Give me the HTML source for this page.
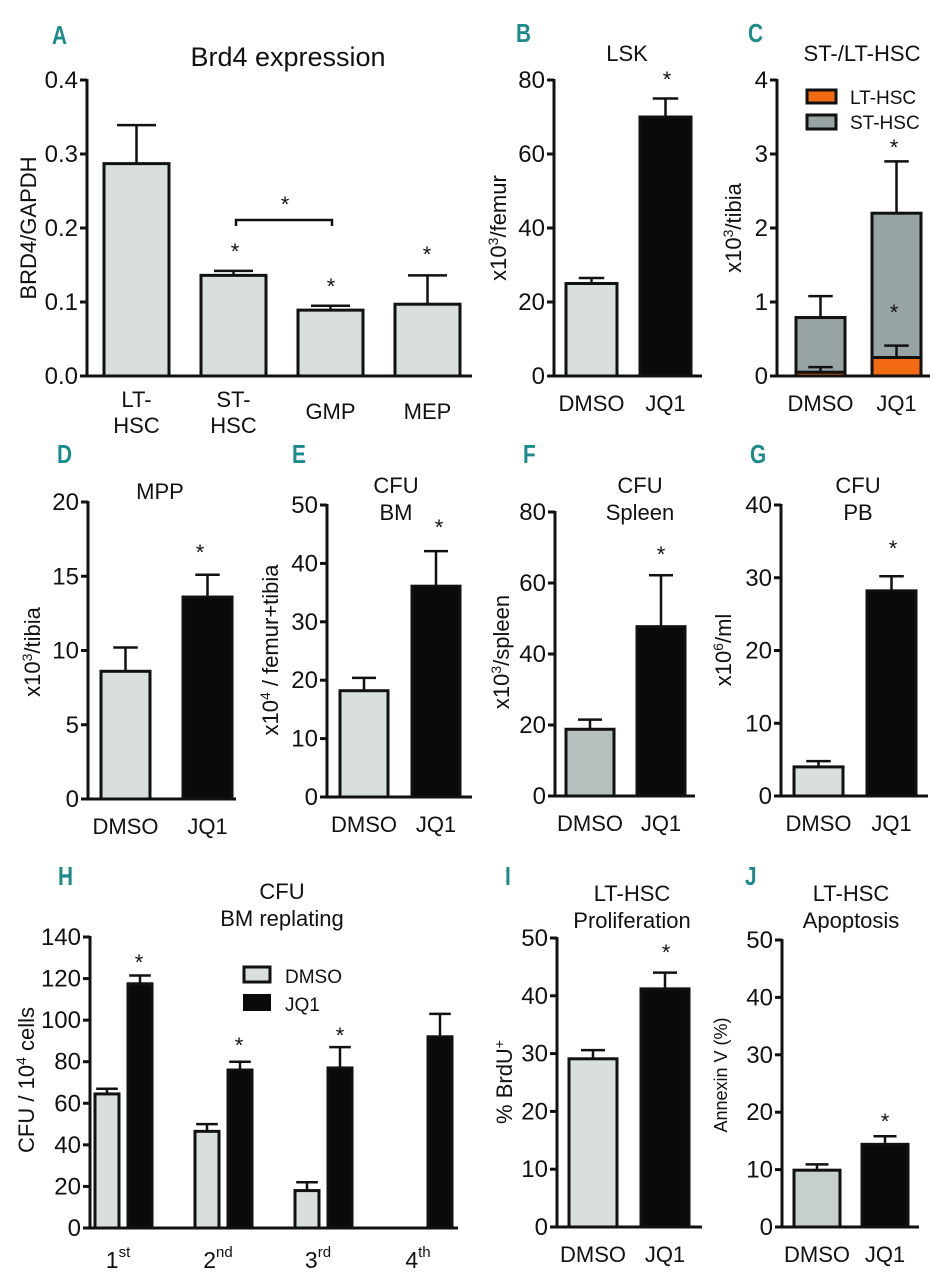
<!DOCTYPE html>
<html><head><meta charset="utf-8">
<style>
html,body{margin:0;padding:0;background:#fff;}
svg{display:block;}
text{font-family:"Liberation Sans",Arial,sans-serif;fill:#111;}
.lt{font-family:"Liberation Sans Narrow","Liberation Sans",sans-serif;font-weight:bold;fill:#1b8a8c;font-size:26px;}
</style></head>
<body>
<svg id="fig" width="944" height="1280" viewBox="0 0 944 1280" xmlns="http://www.w3.org/2000/svg"></svg>
<script>
// ---------- data ----------
const aCategories=["LT-|HSC","ST-|HSC","GMP","MEP"];
const aValues=[0.287,0.136,0.089,0.097];
const aErrTops=[0.339,0.142,0.095,0.136];
const aTicks=["0.0","0.1","0.2","0.3","0.4"];

const grpCategories=["DMSO","JQ1"];
const bValues=[25,70];
const bErrTops=[26.5,75];
const bTicks=["0","20","40","60","80"];

const cLtValues=[0.05,0.25];
const cLtErrTops=[0.12,0.41];
const cStValues=[0.74,1.95];
const cTotalErrTops=[1.08,2.9];
const cTicks=["0","1","2","3","4"];

const dValues=[8.6,13.6];
const dErrTops=[10.2,15.1];
const dTicks=["0","5","10","15","20"];

const eValues=[18.2,36.1];
const eErrTops=[20.4,42.1];
const eTicks=["0","10","20","30","40","50"];

const fValues=[18.8,47.7];
const fErrTops=[21.5,62.2];
const fTicks=["0","20","40","60","80"];

const gValues=[4.0,28.2];
const gErrTops=[4.8,30.2];
const gTicks=["0","10","20","30","40"];

const hCategories=["1|st","2|nd","3|rd","4|th"];
const hDmsoValues=[64.5,46.5,18,0];
const hDmsoErrTops=[67,50,22,0];
const hJq1Values=[117.5,76,77,92];
const hJq1ErrTops=[121.5,80,87,103];
const hTicks=["0","20","40","60","80","100","120","140"];

const iValues=[29.1,41.2];
const iErrTops=[30.6,44];
const iTicks=["0","10","20","30","40","50"];

const jValues=[9.9,14.4];
const jErrTops=[10.9,15.8];
const jTicks=["0","10","20","30","40","50"];

// ---------- helpers ----------
const NS="http://www.w3.org/2000/svg";
const svg=document.getElementById('fig');
function mk(tag,attrs,parent){const e=document.createElementNS(NS,tag);for(const k in attrs)e.setAttribute(k,attrs[k]);(parent||svg).appendChild(e);return e;}
function txt(s,x,y,size,parent,anchor,extra){const t=mk('text',Object.assign({x:x,y:y,'font-size':size,'text-anchor':anchor||'middle'},extra||{}),parent);t.textContent=s;return t;}

function axes(g,cfg){
  const ys=v=>cfg.y0-(v/cfg.ymax)*(cfg.y0-cfg.ytop);
  const ya=mk('line',{x1:cfg.ax,y1:cfg.ytop-1,x2:cfg.ax,y2:cfg.y0+1.5,stroke:'#111','stroke-width':3},g);
  
  
  const xa=mk('line',{x1:cfg.ax-6,y1:cfg.y0,x2:cfg.xend,y2:cfg.y0,stroke:'#111','stroke-width':3},g);
  
  
  const n=cfg.ticks.length;
  cfg.ticks.forEach((lab,i)=>{
    const v=cfg.ymax*i/(n-1);const y=ys(v);
    const tk=mk('line',{x1:cfg.ax-7,y1:y,x2:cfg.ax,y2:y,stroke:'#111','stroke-width':3},g);
    
    
    const tl=txt(lab,cfg.ax-9,y+8,cfg.tickSize||24,g,'end');
    
    
  });
  return ys;
}
function bar(g,x,w,yTop,yBot,fill,name){
  const r=mk('rect',{x:x,y:yTop,width:w,height:Math.max(0,yBot-yTop),fill:fill,stroke:'#111','stroke-width':3},g);
  
  
  return r;
}
function err(g,cx,yVal,yTop,w,name){
  const e=mk('path',{d:`M${cx},${yVal} V${yTop} M${cx-w/2},${yTop} H${cx+w/2}`,stroke:'#111','stroke-width':2.5,fill:'none'},g);
  
  
}
function star(g,x,y){const s=txt('*',x,y,22,g);}
function ytitle(g,s,x,y,size){
  const t=mk('text',{x:0,y:0,'font-size':size||22,'text-anchor':'middle',transform:`translate(${x},${y}) rotate(-90)`},g);
  t.innerHTML=s;
  
  
}
function title(g,lines,cx,y,size,family){
  lines.forEach((l,i)=>{const t=txt(l,cx,y+i*27,size||22,g,'middle',family?{'font-family':family}:{});});
}
function letter(g,s,x,y){const t=txt(s,0,0,26,g,'start',{class:'lt',transform:`translate(${x},${y}) scale(0.8,1)`});}
function xlab(g,s,cx,y,size){
  const parts=s.split('|');
  parts.forEach((p,i)=>{const t=txt(p,cx,y+i*26,size||22,g);});
}

function twoBar(id,cfg,values,errTops,fills){
  const g=mk('g',{});
  const ys=axes(g,cfg);
  values.forEach((v,i)=>{
    const x=cfg.first+i*cfg.step;const cx=x+cfg.w/2;
    err(g,cx,ys(v),ys(errTops[i]),cfg.w/2,'error-bar-'+grpCategories[i].toLowerCase());
    bar(g,x,cfg.w,ys(v),cfg.y0,fills[i],'bar-'+grpCategories[i].toLowerCase());
    xlab(g,grpCategories[i],cx,cfg.y0+35);
  });
  return {g,ys};
}

const LIGHT='#d8dfdd', BLACK='#0a0a0a';

// ---------- Panel A ----------
(function(){
  const cfg={ax:87,y0:376,ytop:80,ymax:0.4,xend:472,ticks:aTicks};
  const g=mk('g',{});
  letter(g,'A',52,44);
  title(g,['Brd4 expression'],288,66,27,'"DejaVu Sans","Liberation Sans",sans-serif');
  ytitle(g,'BRD4/GAPDH',36,228,22);
  const ys=axes(g,cfg);
  aValues.forEach((v,i)=>{
    const x=104+i*97, w=65, cx=x+w/2;
    err(g,cx,ys(v),ys(aErrTops[i]),w*0.6,'error-bar');
    bar(g,x,w,ys(v),cfg.y0,LIGHT,'bar-'+aCategories[i].replace('|','').toLowerCase());
    xlab(g,aCategories[i],cx,aCategories[i].includes('|')?407:419,22);
  });
  const br=mk('path',{d:'M236,226 V220 H332 V226',stroke:'#111','stroke-width':2.5,fill:'none'},g);
  
  
  star(g,285,212);star(g,235,259);star(g,331,294);star(g,427,262);
})();

// ---------- Panel B ----------
(function(){
  const cfg={ax:554,y0:376,ytop:80,ymax:80,xend:702,ticks:bTicks,first:566,step:74,w:51};
  const r=twoBar('panel-b',cfg,bValues,bErrTops,[LIGHT,BLACK]);
  letter(r.g,'B',516,42);
  title(r.g,['LSK'],627,61,22);
  ytitle(r.g,'x10<tspan dy="-8" font-size="14">3</tspan><tspan dy="8">/femur</tspan>',506,228,22);
  star(r.g,667,87);
})();

// ---------- Panel C ----------
(function(){
  const cfg={ax:777,y0:376,ytop:80,ymax:4,xend:930,ticks:cTicks,first:796,step:76,w:49};
  const g=mk('g',{});
  letter(g,'C',748,42);
  title(g,['ST-/LT-HSC'],862,61,22);
  ytitle(g,'x10<tspan dy="-8" font-size="14">3</tspan><tspan dy="8">/tibia</tspan>',741,228,22);
  const ys=axes(g,cfg);
  grpCategories.forEach((c,i)=>{
    const x=cfg.first+i*cfg.step, cx=x+cfg.w/2;
    const tot=cLtValues[i]+cStValues[i];
    err(g,cx,ys(tot),ys(cTotalErrTops[i]),cfg.w/2,'error-bar-st-hsc');
    bar(g,x,cfg.w,ys(tot),ys(cLtValues[i]),'#98a4a3','bar-st-hsc-'+c.toLowerCase());
    bar(g,x,cfg.w,ys(cLtValues[i]),cfg.y0,'#f26a12','bar-lt-hsc-'+c.toLowerCase());
    err(g,cx,ys(cLtValues[i]),ys(cLtErrTops[i]),cfg.w/2,'error-bar-lt-hsc');
    xlab(g,c,cx,cfg.y0+35);
  });
  star(g,894,155);star(g,894,320);
  const l1=mk('rect',{x:807,y:90,width:29,height:13,fill:'#f26a12',stroke:'#111','stroke-width':3},g);
  
  const l2=mk('rect',{x:807,y:115,width:29,height:14,fill:'#98a4a3',stroke:'#111','stroke-width':3},g);
  
  const t1=txt('LT-HSC',850,104,19,g,'start');
  const t2=txt('ST-HSC',850,129,19,g,'start');
})();

// ---------- Panel D ----------
(function(){
  const cfg={ax:88,y0:799,ytop:502,ymax:20,xend:236,ticks:dTicks,first:101,step:82,w:49};
  const r=twoBar('panel-d',cfg,dValues,dErrTops,[LIGHT,BLACK]);
  letter(r.g,'D',57,463);
  title(r.g,['MPP'],160,499,22);
  ytitle(r.g,'x10<tspan dy="-8" font-size="14">3</tspan><tspan dy="8">/tibia</tspan>',40,652,22);
  star(r.g,200,560);
})();

// ---------- Panel E ----------
(function(){
  const cfg={ax:327,y0:797,ytop:505,ymax:50,xend:472,ticks:eTicks,first:340,step:72,w:48};
  const r=twoBar('panel-e',cfg,eValues,eErrTops,[LIGHT,BLACK]);
  letter(r.g,'E',292,463);
  title(r.g,['CFU','BM'],396,493,22);
  ytitle(r.g,'x10<tspan dy="-8" font-size="14">4</tspan><tspan dy="8"> / femur+tibia</tspan>',278,650,22);
  star(r.g,439,535);
})();

// ---------- Panel F ----------
(function(){
  const cfg={ax:555,y0:796,ytop:512,ymax:80,xend:695,ticks:fTicks,first:566,step:71,w:48};
  const r=twoBar('panel-f',cfg,fValues,fErrTops,['#b6c1bf',BLACK]);
  letter(r.g,'F',523,463);
  title(r.g,['CFU','Spleen'],640,493,22);
  ytitle(r.g,'x10<tspan dy="-8" font-size="14">3</tspan><tspan dy="8">/spleen</tspan>',509,652,22);
  star(r.g,661,562);
})();

// ---------- Panel G ----------
(function(){
  const cfg={ax:781,y0:796,ytop:505,ymax:40,xend:928,ticks:gTicks,first:794,step:73,w:49};
  const r=twoBar('panel-g',cfg,gValues,gErrTops,[LIGHT,BLACK]);
  letter(r.g,'G',750,463);
  title(r.g,['CFU','PB'],858,493,22);
  ytitle(r.g,'x10<tspan dy="-8" font-size="14">6</tspan><tspan dy="8">/ml</tspan>',731,650,22);
  star(r.g,893,556);
})();

// ---------- Panel H ----------
(function(){
  const cfg={ax:90,y0:1228,ytop:937,ymax:140,xend:458,ticks:hTicks};
  const g=mk('g',{});
  letter(g,'H',58,885);
  title(g,['CFU','BM replating'],282,899,22);
  ytitle(g,'CFU / 10<tspan dy="-8" font-size="14">4</tspan><tspan dy="8"> cells</tspan>',34,1080,22);
  const ys=axes(g,cfg);
  hCategories.forEach((c,i)=>{
    const xd=95+i*100, xj=128+i*100, w=24;
    if(hDmsoValues[i]>0){
      err(g,xd+w/2,ys(hDmsoValues[i]),ys(hDmsoErrTops[i]),w*0.9,'error-bar-dmso');
      bar(g,xd,w,ys(hDmsoValues[i]),cfg.y0,LIGHT,'bar-dmso-'+i);
    }
    err(g,xj+w/2,ys(hJq1Values[i]),ys(hJq1ErrTops[i]),w*0.9,'error-bar-jq1');
    bar(g,xj,w,ys(hJq1Values[i]),cfg.y0,BLACK,'bar-jq1-'+i);
    const p=c.split('|');
    const t=mk('text',{x:118+i*100,y:1268,'font-size':23,'text-anchor':'middle'},g);
    t.innerHTML=p[0]+'<tspan dy="-11" font-size="15">'+p[1]+'</tspan>';
    
    
  });
  star(g,139,970);star(g,239,1053);star(g,340,1043);
  const l1=mk('rect',{x:244,y:967,width:26,height:15,fill:LIGHT,stroke:'#111','stroke-width':3},g);
  
  const l2=mk('rect',{x:243,y:994,width:28,height:17,fill:BLACK},g);
  
  const t1=txt('DMSO',285,983,19,g,'start');
  const t2=txt('JQ1',285,1011,19,g,'start');
})();

// ---------- Panel I ----------
(function(){
  const cfg={ax:557,y0:1227,ytop:938,ymax:50,xend:702,ticks:iTicks,first:569,step:72,w:48};
  const r=twoBar('panel-i',cfg,iValues,iErrTops,[LIGHT,BLACK]);
  letter(r.g,'I',505,885);
  title(r.g,['LT-HSC','Proliferation'],632,901,22);
  ytitle(r.g,'% BrdU<tspan dy="-8" font-size="14">+</tspan>',512,1082,22);
  star(r.g,666,960);
})();

// ---------- Panel J ----------
(function(){
  const cfg={ax:782,y0:1227,ytop:940,ymax:50,xend:919,ticks:jTicks,first:794,step:68,w:46};
  const r=twoBar('panel-j',cfg,jValues,jErrTops,['#c6cfcd',BLACK]);
  letter(r.g,'J',745,885);
  title(r.g,['LT-HSC','Apoptosis'],851,901,22);
  ytitle(r.g,'Annexin V (%)',727,1075,18);
  star(r.g,885,1129);
})();
</script>
</body></html>
